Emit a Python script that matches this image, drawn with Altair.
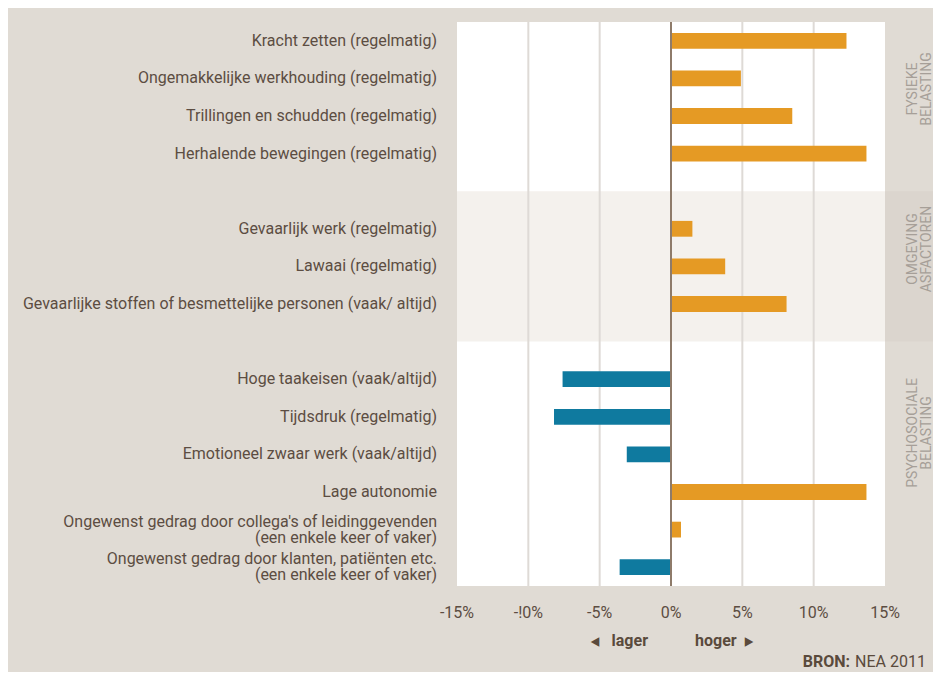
import altair as alt
import pandas as pd

# ---- data ----
labels = [
    "Kracht zetten (regelmatig)",
    "Ongemakkelijke werkhouding (regelmatig)",
    "Trillingen en schudden (regelmatig)",
    "Herhalende bewegingen (regelmatig)",
    "Gevaarlijk werk (regelmatig)",
    "Lawaai (regelmatig)",
    "Gevaarlijke stoffen of besmettelijke personen (vaak/ altijd)",
    "Hoge taakeisen (vaak/altijd)",
    "Tijdsdruk (regelmatig)",
    "Emotioneel zwaar werk (vaak/altijd)",
    "Lage autonomie",
    "Ongewenst gedrag door collega's of leidinggevenden\n(een enkele keer of vaker)",
    "Ongewenst gedrag door klanten, patiënten etc.\n(een enkele keer of vaker)",
]
values = [12.3, 4.9, 8.5, 13.7, 1.5, 3.8, 8.1, -7.6, -8.2, -3.1, 13.7, 0.7, -3.6]
groups = ["FYSIEKE"] * 4 + ["OMGEVING"] * 3 + ["PSYCHOSOCIALE"] * 6
group_order = ["FYSIEKE", "OMGEVING", "PSYCHOSOCIALE"]
group_titles = ["FYSIEKE\nBELASTING", "OMGEVING\nASFACTOREN", "PSYCHOSOCIALE\nBELASTING"]
tick_values = [-15, -10, -5, 0, 5, 10, 15]
tick_labels = ["-15%", "-!0%", "-5%", "0%", "5%", "10%", "15%"]
grid_values = [-10, -5, 5, 10]

# row slot: one empty row between groups
slots = [i + group_order.index(g) for i, g in enumerate(groups)]
df = pd.DataFrame({"label": labels, "value": values, "group": groups, "slot": slots})
df["sign"] = ["pos" if v >= 0 else "neg" for v in values]
df["multi"] = ["\n" in l for l in labels]

band_rows = df[df.group == "OMGEVING"]
band = pd.DataFrame({"y1": [band_rows.slot.min() - 1], "y2": [band_rows.slot.max() + 1],
                     "x1": [-15], "x2": [15]})
ticks = pd.DataFrame({"v": tick_values, "t": tick_labels})

FONT = "Roboto, DejaVu Sans Condensed, sans-serif"
TXT = "#5c4d42"
DARK = "#5a4a3c"
W, H = 428, 564

yscale = alt.Scale(domain=[-0.5, 14.5], reverse=True, nice=False, zero=False)
xscale = alt.Scale(domain=[-15, 15], nice=False, zero=False)

band_rect = alt.Chart(band).mark_rect(color="#f4f1ed").encode(
    x=alt.X("x1:Q", scale=xscale, axis=None), x2="x2:Q",
    y=alt.Y("y1:Q", scale=yscale, axis=None), y2="y2:Q",
)
band_right = alt.Chart(band).mark_rect(color="#dbd5ce").encode(
    x=alt.value(W), x2=alt.value(W + 48),
    y=alt.Y("y1:Q", scale=yscale, axis=None), y2="y2:Q",
)

grid = alt.Chart(pd.DataFrame({"g": grid_values})).mark_rule(color="#dedad6", strokeWidth=2).encode(
    x=alt.X("g:Q", scale=xscale, axis=None)
)

bars = alt.Chart(df).transform_calculate(
    top="datum.slot - 0.21", bot="datum.slot + 0.21"
).mark_bar().encode(
    x=alt.X("value:Q", scale=xscale, axis=None),
    x2=alt.datum(0),
    y=alt.Y("top:Q", scale=yscale, axis=None), y2="bot:Q",
    color=alt.Color("sign:N", scale=alt.Scale(domain=["pos", "neg"], range=["#e59a24", "#0f7a9f"]),
                    legend=None),
)

zero = alt.Chart(pd.DataFrame({"z": [0]})).mark_rule(color="#8e7b6a", strokeWidth=2).encode(
    x=alt.X("z:Q", scale=xscale, axis=None)
)

tick_text = alt.Chart(ticks).mark_text(
    align="center", baseline="middle", font=FONT, fontSize=16, color=TXT
).encode(x=alt.X("v:Q", scale=xscale, axis=None), y=alt.value(H + 27), text="t:N")

single_labels = alt.Chart(df).transform_filter("!datum.multi").mark_text(
    align="right", baseline="middle", font=FONT, fontSize=16, color=TXT, dx=-20
).encode(x=alt.value(0), y=alt.Y("slot:Q", scale=yscale, axis=None), text="label:N")

multi_labels = alt.Chart(df).transform_filter("datum.multi").mark_text(
    align="right", baseline="middle", font=FONT, fontSize=16, color=TXT, lineBreak="\n",
    lineHeight=16, dx=-20, dy=-8
).encode(x=alt.value(0), y=alt.Y("slot:Q", scale=yscale, axis=None), text="label:N")

layers = [band_rect, band_right, grid, bars, zero, tick_text, single_labels, multi_labels]

# group titles at the right side
group_y = [67, 227, 411]
for title, gy in zip(group_titles, group_y):
    layers.append(
        alt.Chart(pd.DataFrame({"t": [title]})).mark_text(
            align="center", baseline="middle", angle=270, font=FONT, fontSize=14,
            color="#a69f98", lineBreak="\n", lineHeight=14
        ).encode(x=alt.value(W + 28), y=alt.value(gy), text="t:N")
    )

layers.append(alt.Chart(pd.DataFrame({"t": ["lager"]})).mark_text(
    align="right", baseline="middle", font=FONT, fontSize=16, fontWeight="bold", color=DARK
).encode(x=alt.value(191), y=alt.value(H + 55), text="t:N"))
layers.append(alt.Chart(pd.DataFrame({"t": ["◂"]})).mark_text(
    align="center", baseline="middle", font=FONT, fontSize=19, color=DARK
).encode(x=alt.value(138), y=alt.value(H + 55), text="t:N"))
layers.append(alt.Chart(pd.DataFrame({"t": ["hoger"]})).mark_text(
    align="left", baseline="middle", font=FONT, fontSize=16, fontWeight="bold", color=DARK
).encode(x=alt.value(238), y=alt.value(H + 55), text="t:N"))
layers.append(alt.Chart(pd.DataFrame({"t": ["▸"]})).mark_text(
    align="center", baseline="middle", font=FONT, fontSize=19, color=DARK
).encode(x=alt.value(292), y=alt.value(H + 55), text="t:N"))
layers.append(alt.Chart(pd.DataFrame({"t": ["NEA 2011"]})).mark_text(
    align="right", baseline="middle", font=FONT, fontSize=16, color=DARK
).encode(x=alt.value(469), y=alt.value(H + 76), text="t:N"))
layers.append(alt.Chart(pd.DataFrame({"t": ["BRON:"]})).mark_text(
    align="right", baseline="middle", font=FONT, fontSize=16, fontWeight="bold", color=DARK
).encode(x=alt.value(393), y=alt.value(H + 76), text="t:N"))

chart = alt.layer(*layers).properties(
    width=W, height=H,
    background="#e0dbd4",
    autosize=alt.AutoSizeParams(type="none"),
    padding={"left": 449, "top": 14, "right": 48, "bottom": 86},
).configure_view(stroke=None, fill="white")

chart.save("out.html", embed_options={"renderer": "svg", "actions": False})
